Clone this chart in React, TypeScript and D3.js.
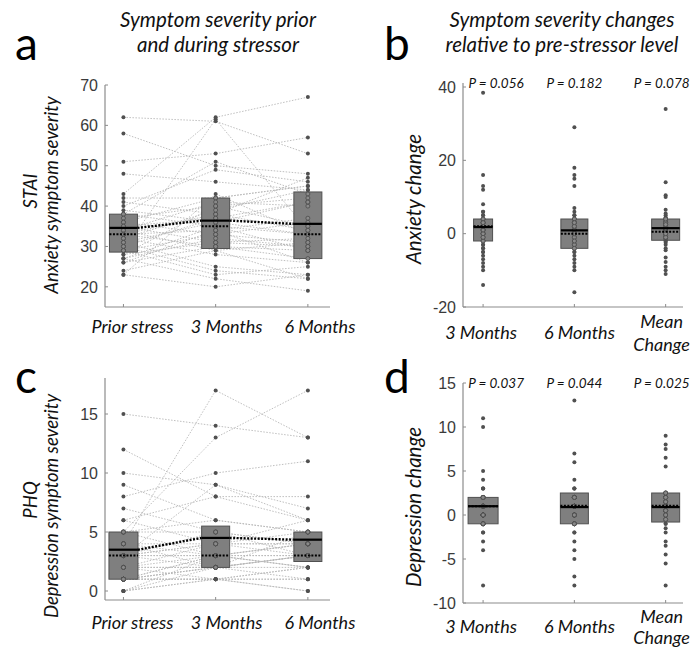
import React from 'react';
import * as d3 from 'd3';

// ---------- DATA ----------
const timeLabels = ['Prior stress', '3 Months', '6 Months'];
const changeLabels = [['3 Months'], ['6 Months'], ['Mean', 'Change']];

// STAI per subject (prior, 3 months, 6 months)
const staiPrior = [62, 58, 51, 48, 43, 42, 41, 40, 39, 38, 38, 37, 36, 36, 35, 35, 34, 34, 33, 33, 33, 32, 32, 31, 31, 30, 30, 29, 29, 29, 28, 28, 27, 27, 26, 26, 27, 24, 23, 23];
const stai3m = [61, 50, 53, 46, 62, 42, 38, 49, 36, 51, 35, 40, 33, 42, 31, 37, 29, 41, 30, 38, 34, 28, 39, 25, 36, 24, 37, 61.5, 23, 33, 31, 40, 22, 35, 30, 34, 32, 29, 20, 43];
const stai6m = [53, 48, 57, 44, 67, 45, 47, 46, 41, 43, 33, 42, 36, 45, 30, 35, 31, 40, 29, 34, 37, 26, 44, 23, 33, 22, 41, 34, 25, 31, 32, 35, 19, 29, 27, 26, 30, 22, 23, 33];
const staiQ1 = [28.6, 29.5, 27];
const staiQ3 = [38, 42, 43.5];
const staiMean = [34.6, 36.4, 35.6];
const staiMedian = [33, 35, 33];

// PHQ per subject
const phqPrior = [15, 12, 10, 9, 8, 7, 6, 6, 5, 5, 5, 5, 4, 4, 4, 4, 3, 3, 3, 3, 3, 3, 2, 2, 2, 2, 2, 1, 1, 1, 1, 1, 1, 1, 1, 0, 0, 0, 0, 3];
const phq3m = [14, 8, 9, 6, 10, 5, 8, 4, 13, 5, 3, 6, 17, 4, 3, 2, 9, 3, 2, 4, 5, 3, 2, 3, 1, 2, 4, 3, 1, 2, 1, 2, 3, 1, 2, 1, 1, 2, 3, 4];
const phq6m = [13, 6, 7, 5, 11, 4, 8, 3, 17, 4, 3, 5, 13, 4, 2, 3, 6, 4, 3, 5, 3, 2, 1, 4, 2, 3, 4, 2, 0, 3, 1, 2, 3, 1, 5, 0, 2, 3, 4, 6];
const phqQ1 = [1, 2, 2.5];
const phqQ3 = [5, 5.5, 5];
const phqMean = [3.5, 4.5, 4.35];
const phqMedian = [3, 3, 3];

// Anxiety change (3 months, 6 months, mean change)
const anx3m = [38.4, 16, 13, 12, 8, 6, 5, 4, 3, 2, 1, 0, -1, -2, -3, -4, -5, -6, -7, -8, -9, -10, -14, 2, 1, 0, 3, -2, 4, -1, 2, 5, 0, 1, -3, 3, 2, -4, -5, 6];
const anx6m = [29, 18, 16, 15, 13, 7, 6, 5, 4, 3, 2, 1, 0, -1, -2, -3, -4, -5, -6, -7, -8, -9, -10, -16, 1, 0, -1, 2, 3, -3, 4, 0, -2, 1, 5, -4, 2, -5, 0, 3];
const anxMean = [34, 14, 10.5, 10, 6.5, 5.5, 5, 4.5, 4, 3.5, 3, 2.5, 2, 1.5, 1, 0.5, 0, -0.5, -1, -1.5, -2, -2.5, -3, -4, -4.5, -6.5, -7.7, -9, -10, -11, 1, 2, 0.5, 1.5, 3, -1, 0, 2.5, 4, -2];
const anxQ1 = [-2, -4, -1.8];
const anxQ3 = [4, 4, 4];
const anxMeanLine = [1.8, 0.9, 1.5];
const anxMedian = [2, 0, 0.5];

// Depression change
const dep3m = [11, 10, 5, 4, 3, 2, 1, 0, -1, -2, -3, -4, -8, 1, 1, 0, 0, 2, -1, 1, 0, -1, 2, 3, 1, 0, -1, 1, 2, 0, -2, 1, 0, 1, 2, -1, 0, 1, 3, 1];
const dep6m = [13, 7, 6, 4, 3, 2, 1, 0, -1, -2, -3, -4, -5, -7, -8, 1, 2, 0, 1, -1, 2, 0, 1, -1, 3, 1, 2, 0, -2, 1, 2, 1, 0, -1, 2, 1, 0, 3, 1, 2];
const depMeanCh = [9, 8, 7.5, 6.5, 5.5, 2.5, 2, 1.5, 1, 0.5, 0, -0.5, -1, -1.5, -2, -3, -3.5, -4.5, -5.5, -8, 1, 2, 0.5, 1, 1.5, 0, -0.5, 2.5, 1, 2, 1.5, 0.5, -1, 1, 2, 0, 1, 2.5, 0.5, 1.5];
const depQ1 = [-1, -1, -0.8];
const depQ3 = [2, 2.5, 2.5];
const depMeanLine = [1, 0.9, 0.9];
const depMedian = [1, 1.05, 1.05];

const pAnx = ['P = 0.056', 'P = 0.182', 'P = 0.078'];
const pDep = ['P = 0.037', 'P = 0.044', 'P = 0.025'];

const staiTicks = [20, 30, 40, 50, 60, 70];
const phqTicks = [0, 5, 10, 15];
const anxTicks = [-20, 0, 20, 40];
const depTicks = [-10, -5, 0, 5, 10, 15];

// ---------- STYLE ----------
const LABEL_FONT = 'Lato, "Open Sans", sans-serif';
const TICK_FONT = '"Liberation Sans", Arial, sans-serif';
const AXIS_COLOR = '#8c8c8c';
const DOT_COLOR = '#505050';
const BOX_FILL = '#7f7f7f';

type PanelProps = {
  x0: number; x1: number; yTop: number; yBottom: number;
  yDomain: [number, number]; yRange: [number, number];
  xDomain: [number, number];
  ticks: number[];
  series: number[][];
  q1: number[]; q3: number[]; mean: number[]; median: number[];
  boxW: number[];
  connect: boolean;
  xLabels: string[][];
  labelDx: number[];
  labelY: number;
  lineGap: number;
  pvals?: string[];
  pDx?: number[];
  pY?: number;
};

function Panel(p: PanelProps) {
  const x = d3.scaleLinear().domain(p.xDomain).range([p.x0, p.x1]);
  const y = d3.scaleLinear().domain(p.yDomain).range(p.yRange);
  const n = p.series[0].length;
  const cats = p.series.map((_, i) => i);
  const line = d3.line<[number, number]>().x(d => x(d[0])).y(d => y(d[1]));

  return (
    <g>
      {p.connect && d3.range(n).map(s => (
        <path key={'l' + s}
          d={line(cats.map(i => [i, p.series[i][s]]) as [number, number][]) || ''}
          fill="none" stroke="#b8b8b8" strokeWidth={0.9} strokeDasharray="1.5,1.5" />
      ))}
      {cats.map(i => {
        const w = p.boxW[i];
        return (
          <rect key={'b' + i} x={x(i) - w / 2} y={y(p.q3[i])} width={w} height={y(p.q1[i]) - y(p.q3[i])}
            fill={BOX_FILL} stroke="#505050" strokeWidth={1} />
        );
      })}
      {cats.map(i => p.series[i].map((v, k) => {
        const inBox = v >= p.q1[i] && v <= p.q3[i];
        return (
          <circle key={'d' + i + '-' + k} cx={x(i)} cy={y(v)} r={2}
            fill={inBox ? '#8a8a8a' : DOT_COLOR} stroke={inBox ? '#4a4a4a' : 'none'} strokeWidth={0.8} />
        );
      }))}
      {cats.map(i => {
        const w = p.boxW[i];
        return (
          <g key={'m' + i}>
            <line x1={x(i) - w / 2} x2={x(i) + w / 2} y1={y(p.median[i])} y2={y(p.median[i])}
              stroke="#000" strokeWidth={2} strokeDasharray="2,1.5" />
            <line x1={x(i) - w / 2} x2={x(i) + w / 2} y1={y(p.mean[i])} y2={y(p.mean[i])}
              stroke="#000" strokeWidth={2.2} />
          </g>
        );
      })}
      {p.connect && cats.slice(0, -1).map(i => (
        <line key={'c' + i} x1={x(i) + p.boxW[i] / 2} y1={y(p.mean[i])}
          x2={x(i + 1) - p.boxW[i + 1] / 2} y2={y(p.mean[i + 1])}
          stroke="#000" strokeWidth={2.4} strokeDasharray="2,1.5" />
      ))}
      <line x1={p.x0} x2={p.x0} y1={p.yTop} y2={p.yBottom} stroke={AXIS_COLOR} strokeWidth={1.2} />
      <line x1={p.x0} x2={p.x1} y1={p.yBottom} y2={p.yBottom} stroke={AXIS_COLOR} strokeWidth={1.2} />
      {p.ticks.map(t => (
        <g key={'t' + t}>
          <line x1={p.x0} x2={p.x0 + 3} y1={y(t)} y2={y(t)} stroke={AXIS_COLOR} />
          <text x={p.x0 - 7} y={y(t)} dy="0.36em" textAnchor="end" fontFamily={TICK_FONT}
            fontSize={16} fill="#3a3a3a">{t}</text>
        </g>
      ))}
      {cats.map(i => (
        <line key={'xt' + i} x1={x(i)} x2={x(i)} y1={p.yBottom} y2={p.yBottom - 3} stroke={AXIS_COLOR} />
      ))}
      {p.xLabels.map((lines, i) => (
        <text key={'xl' + i} x={x(i) + p.labelDx[i]} y={p.labelY - (lines.length - 1) * p.lineGap / 2}
          textAnchor="middle" fontFamily={LABEL_FONT} fontStyle="italic" fontSize={18} fill="#111">
          {lines.map((s, j) => (
            <tspan key={j} x={x(i) + p.labelDx[i]} dy={j === 0 ? 0 : p.lineGap}>{s}</tspan>
          ))}
        </text>
      ))}
      {p.pvals && p.pvals.map((s, i) => (
        <text key={'p' + i} x={x(i) + (p.pDx ? p.pDx[i] : 0)} y={p.pY} textAnchor="middle" fontFamily={LABEL_FONT}
          fontStyle="italic" fontSize={13.5} fill="#111">{s}</text>
      ))}
    </g>
  );
}

function YLabel({ x, y, text, size = 18.5 }: { x: number; y: number; text: string; size?: number }) {
  return (
    <text transform={`translate(${x},${y}) rotate(-90)`} textAnchor="middle" fontFamily={LABEL_FONT}
      fontStyle="italic" fontSize={size} fill="#111">{text}</text>
  );
}

export default function App() {
  const leftX: [number, number] = [-0.2, 2.24];
  const rightX: [number, number] = [-0.22, 2.19];
  const titleStyle = { fontFamily: LABEL_FONT, fontStyle: 'italic', fontSize: 20.5, fill: '#111' } as const;
  return (
    <svg width={692} height={648} style={{ position: 'absolute', left: 0, top: 0, background: '#fff' }}>
      <rect width={692} height={648} fill="#fff" />
      <text x={218} y={27} textAnchor="middle" {...titleStyle}>Symptom severity prior</text>
      <text x={218} y={52} textAnchor="middle" {...titleStyle}>and during stressor</text>
      <text x={562} y={27} textAnchor="middle" {...titleStyle}>Symptom severity changes</text>
      <text x={562} y={52} textAnchor="middle" {...titleStyle}>relative to pre-stressor level</text>
      <text x={15} y={60} fontFamily={LABEL_FONT} fontSize={46} fill="#000">a</text>
      <text x={384} y={60} fontFamily={LABEL_FONT} fontSize={46} fill="#000">b</text>
      <text x={15} y={393} fontFamily={LABEL_FONT} fontSize={46} fill="#000">c</text>
      <text x={384} y={393} fontFamily={LABEL_FONT} fontSize={46} fill="#000">d</text>

      <YLabel x={37} y={191} text="STAI" />
      <YLabel x={58} y={195} text="Anxiety symptom severity" />
      <YLabel x={37} y={500} text="PHQ" />
      <YLabel x={58} y={506} text="Depression symptom severity" />
      <YLabel x={421} y={199} text="Anxiety change" size={20.5} />
      <YLabel x={421} y={507} text="Depression change" size={20.5} />

      <Panel x0={105} x1={330} yTop={85} yBottom={307} yDomain={[15, 70]} yRange={[307, 85]} xDomain={leftX}
        ticks={staiTicks} series={[staiPrior, stai3m, stai6m]} q1={staiQ1} q3={staiQ3} mean={staiMean} median={staiMedian}
        boxW={[28, 28, 28]} connect={true} xLabels={timeLabels.map(s => [s])} labelDx={[9, 11, 12]} labelY={333} lineGap={23} />

      <Panel x0={463} x1={683} yTop={83} yBottom={307} yDomain={[-20, 40]} yRange={[307, 87]} xDomain={rightX}
        ticks={anxTicks} series={[anx3m, anx6m, anxMean]} q1={anxQ1} q3={anxQ3} mean={anxMeanLine} median={anxMedian}
        boxW={[19, 27, 28]} connect={false} xLabels={changeLabels} labelDx={[-2, 5, -4]} labelY={339} lineGap={23}
        pvals={pAnx} pDx={[13, 0, -4]} pY={88} />

      <Panel x0={105} x1={330} yTop={378} yBottom={600} yDomain={[0, 15]} yRange={[591, 414]} xDomain={leftX}
        ticks={phqTicks} series={[phqPrior, phq3m, phq6m]} q1={phqQ1} q3={phqQ3} mean={phqMean} median={phqMedian}
        boxW={[29, 28, 28]} connect={true} xLabels={timeLabels.map(s => [s])} labelDx={[9, 11, 12]} labelY={629} lineGap={23} />

      <Panel x0={463} x1={683} yTop={383} yBottom={603} yDomain={[-10, 15]} yRange={[603, 383]} xDomain={rightX}
        ticks={depTicks} series={[dep3m, dep6m, depMeanCh]} q1={depQ1} q3={depQ3} mean={depMeanLine} median={depMedian}
        boxW={[30, 28, 28]} connect={false} xLabels={changeLabels} labelDx={[-2, 5, -4]} labelY={633} lineGap={21}
        pvals={pDep} pDx={[13, 0, -4]} pY={388} />
    </svg>
  );
}
